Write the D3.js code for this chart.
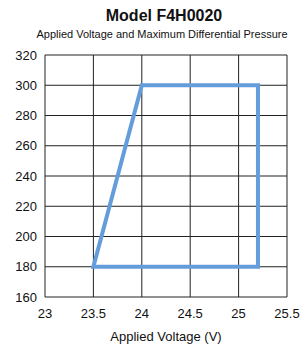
<!DOCTYPE html>
<html>
<head>
<meta charset="utf-8">
<script src="https://cdn.jsdelivr.net/npm/d3@7"></script>
<style>
  body { margin: 0; background: #fff; }
  text { font-family: "Liberation Sans", Arial, sans-serif; fill: #111; }
</style>
</head>
<body>
<div id="chart"></div>
<script>
// data
var voltage = [23.5, 24, 25.2, 25.2];
var pressure = [180, 300, 300, 180];
var xTicks = [23, 23.5, 24, 24.5, 25, 25.5];
var yTicks = [160, 180, 200, 220, 240, 260, 280, 300, 320];

var svgWidth = 307, svgHeight = 345;
var margin = { top: 55, right: 20, bottom: 48, left: 45 };
var width = svgWidth - margin.left - margin.right;
var height = svgHeight - margin.top - margin.bottom;

var svg = d3.select("#chart").append("svg")
  .attr("width", svgWidth)
  .attr("height", svgHeight);

// titles
svg.append("text")
  .attr("x", 164).attr("y", 21)
  .attr("text-anchor", "middle")
  .style("font-size", "16px").style("font-weight", "bold")
  .text("Model F4H0020");
svg.append("text")
  .attr("x", 162).attr("y", 38)
  .attr("text-anchor", "middle")
  .style("font-size", "11px")
  .text("Applied Voltage and Maximum Differential Pressure");

var g = svg.append("g")
  .attr("transform", `translate(${margin.left}, ${margin.top})`);

var x = d3.scaleLinear().domain([23, 25.5]).range([0, width]);
var y = d3.scaleLinear().domain([160, 320]).range([height, 0]);

// grid
g.selectAll(".vgrid").data(xTicks).enter().append("line")
  .attr("x1", d => x(d)).attr("x2", d => x(d))
  .attr("y1", 0).attr("y2", height)
  .attr("stroke", "#222").attr("stroke-width", 1);
g.selectAll(".hgrid").data(yTicks).enter().append("line")
  .attr("x1", 0).attr("x2", width)
  .attr("y1", d => y(d)).attr("y2", d => y(d))
  .attr("stroke", "#222").attr("stroke-width", 1);

// tick labels
g.selectAll(".xl").data(xTicks).enter().append("text")
  .attr("x", d => x(d)).attr("y", height + 21)
  .attr("text-anchor", "middle")
  .style("font-size", "13px")
  .text(d => d);
g.selectAll(".yl").data(yTicks).enter().append("text")
  .attr("x", -8).attr("y", d => y(d) + 4.5)
  .attr("text-anchor", "end")
  .style("font-size", "13px")
  .text(d => d);

// axis label
g.append("text")
  .attr("x", 121).attr("y", height + 44)
  .attr("text-anchor", "middle")
  .style("font-size", "13px")
  .text("Applied Voltage (V)");

// operating region
var pts = voltage.map((v, i) => [x(v), y(pressure[i])]);
g.append("path")
  .attr("d", d3.line()(pts) + "Z")
  .attr("fill", "none")
  .attr("stroke", "#639ddb")
  .attr("stroke-width", 4)
  .attr("stroke-linejoin", "miter");
</script>
</body>
</html>
